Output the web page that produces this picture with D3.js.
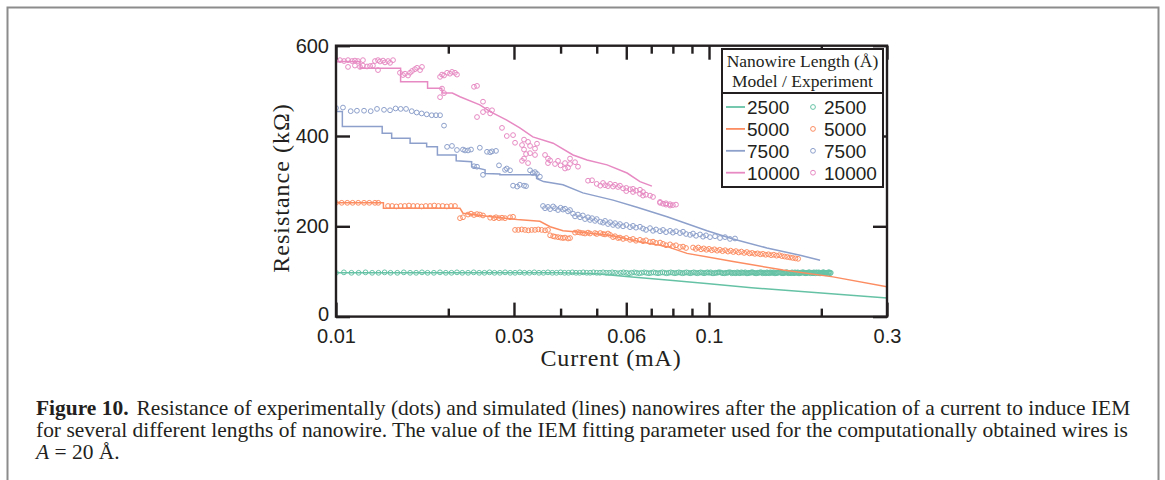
<!DOCTYPE html>
<html>
<head>
<meta charset="utf-8">
<script src="https://cdn.jsdelivr.net/npm/d3@7"></script>
<style>
  body { margin: 0; background: #fff; }
</style>
</head>
<body>
<div id="chart"></div>
<script>
// ---- data (current in mA, resistance in kOhm) ----
const lengths = ["2500", "5000", "7500", "10000"];
const colors = ["#66c2a5", "#fc8d62", "#8da0cb", "#e78ac3"];
const xTicks = [0.01, 0.03, 0.06, 0.1, 0.3];
const xMinorTicks = [0.02, 0.04, 0.05, 0.07, 0.08, 0.09, 0.2];
const yTicks = [0, 200, 400, 600];

const model2500 = [[0.01,97],[0.04,97],[0.05,95],[0.06,89],[0.08,80],[0.1,73],[0.13,64],[0.2,52],[0.3,41]];
const model5000 = [[0.01,252],[0.0134,252],[0.0134,240],[0.0215,240],[0.0219,229],[0.0251,223],[0.0306,215],[0.0352,211],
  [0.0375,199],[0.0406,190],[0.0459,186],[0.0543,180],[0.0653,166],[0.0772,155],[0.0873,140],[0.116,122],[0.158,103],[0.215,88],[0.3,66]];
const model7500 = [[0.01,454],[0.0104,454],[0.0104,421],[0.0133,421],[0.0133,406],[0.0141,406],[0.0141,395],[0.0158,395],
  [0.0158,384],[0.0175,384],[0.0175,376],[0.0187,376],[0.0187,358],[0.021,358],[0.021,345],[0.0231,343],[0.0231,332],
  [0.0251,325],[0.0251,317],[0.0275,316],[0.0275,314],[0.0345,314],[0.0345,306],[0.036,299],[0.0406,292],[0.0459,274],
  [0.0553,258],[0.0641,242],[0.0772,221],[0.0988,190],[0.116,172],[0.143,152],[0.1754,136],[0.1985,125]];
const model10000 = [[0.01,565],[0.0116,565],[0.0116,550],[0.0149,550],[0.0149,520],[0.0176,520],[0.0176,506],[0.0192,506],
  [0.0193,495],[0.0205,495],[0.0215,487],[0.0243,469],[0.0259,454],[0.0287,435],[0.0311,418],[0.0337,398],[0.0382,384],
  [0.0432,358],[0.0471,347],[0.0533,336],[0.0603,318],[0.0653,299],[0.0703,289]];

const exp2500 = [[0.0100,97],[0.0105,98],[0.0110,97],[0.0115,97],[0.0120,98],[0.0125,97],[0.0130,97],[0.0135,98],[0.0140,97],
  [0.0146,97],[0.0152,98],[0.0158,97],[0.0164,97],[0.0170,98],[0.0176,97],[0.0183,97],[0.0190,98],[0.0197,97],[0.0204,97],
  [0.0211,98],[0.0218,97],[0.0226,97],[0.0234,98],[0.0242,97],[0.0250,97],[0.0258,98],[0.0266,97],[0.0275,97],[0.0284,98],
  [0.0293,97],[0.0302,97],[0.0311,98],[0.0320,97],[0.0330,97],[0.0340,98],[0.0350,97],[0.0360,97],[0.0370,98],[0.0380,97],
  [0.0390,97],[0.0400,98],[0.0410,97],[0.0420,97],[0.0430,98],[0.0440,97],[0.0450,97],[0.0460,98],[0.0470,97],[0.0480,97],
  [0.0490,98],[0.0500,97],[0.0510,97],[0.0520,98],[0.0530,97],[0.0540,97],[0.0550,98],[0.0560,97],[0.0570,96],[0.0580,97],
  [0.0590,98],[0.0600,97],[0.061,96],[0.062,97],[0.063,98],[0.064,97],[0.065,96],[0.066,97],[0.067,98],[0.068,97],[0.069,96],
  [0.070,97],[0.071,98],[0.072,97],[0.073,96],[0.074,97],[0.075,98],[0.076,97],[0.077,96],[0.078,97],[0.079,98],[0.080,97],
  [0.081,96],[0.082,97],[0.083,98],[0.084,97],[0.085,96],[0.086,97],[0.087,98],[0.088,97],[0.089,96],[0.090,97],[0.091,98],
  [0.092,97],[0.093,96],[0.094,97],[0.095,98],[0.096,97],[0.097,96],[0.098,97],[0.099,98],[0.100,97],[0.102,96],[0.104,97],
  [0.106,98],[0.108,97],[0.110,96],[0.112,97],[0.114,98],[0.116,97],[0.118,96],[0.120,97],[0.122,98],[0.124,97],[0.126,96],
  [0.128,97],[0.130,98],[0.132,97],[0.134,96],[0.136,97],[0.138,98],[0.140,97],[0.142,96],[0.144,97],[0.146,98],[0.148,97],
  [0.150,96],[0.152,97],[0.154,98],[0.156,97],[0.158,96],[0.160,97],[0.162,98],[0.164,97],[0.166,96],[0.168,97],[0.170,98],
  [0.172,97],[0.174,96],[0.176,97],[0.178,98],[0.180,97],[0.182,96],[0.184,97],[0.186,98],[0.188,97],[0.190,96],[0.192,97],
  [0.194,98],[0.196,97],[0.198,96],[0.200,97],[0.202,98],[0.204,97],[0.206,96],[0.208,97],[0.210,98],[0.212,97],
  [0.101,98],[0.103,96],[0.105,97],[0.107,98],[0.109,96],[0.111,97],[0.113,98],[0.115,96],[0.117,97],[0.119,98],[0.121,96],
  [0.123,97],[0.125,98],[0.127,96],[0.129,97],[0.131,98],[0.133,96],[0.135,97],[0.137,98],[0.139,96],[0.141,97],[0.143,98],
  [0.145,96],[0.147,97],[0.149,98],[0.151,96],[0.153,97],[0.155,98],[0.157,96],[0.159,97],[0.161,98],[0.163,96],[0.165,97],
  [0.167,98],[0.169,96],[0.171,97],[0.173,98],[0.175,96],[0.177,97],[0.179,98],[0.181,96],[0.183,97],[0.185,98],[0.187,96],
  [0.189,97],[0.191,98],[0.193,96],[0.195,97],[0.197,98],[0.199,96],[0.201,97],[0.203,98],[0.205,96],[0.207,97],[0.209,98],[0.211,96]];

const exp5000 = [[0.0100,252],[0.01036,252],[0.01072,252],[0.01108,252],[0.01147,252],[0.01189,252],[0.01228,252],[0.01272,252],[0.01298,252],
  [0.01379,245],[0.01414,245],[0.01451,244],[0.01490,245],[0.01529,245],[0.01569,246],[0.01611,245],[0.01653,245],[0.01696,244],
  [0.01741,245],[0.01787,245],[0.01834,246],[0.01882,245],[0.01931,245],[0.01982,244],[0.02034,245],[0.02084,245],
  [0.0215,218],[0.0219,220],[0.02259,226],[0.02301,228],[0.02344,225],[0.02388,227],[0.0243,226],[0.02478,224],
  [0.0259,219],[0.02652,218],[0.02685,220],[0.02735,218],[0.02786,219],[0.02839,218],[0.02928,220],[0.02983,221],
  [0.0302,192],[0.03082,192],[0.03147,193],[0.03211,192],[0.03277,191],[0.03346,192],[0.03416,192],[0.03486,193],[0.03559,192],
  [0.03634,191],[0.03701,192],[0.0375,180],[0.0382,178],[0.03865,177],[0.03937,176],[0.04,175],[0.0406,174],[0.04111,175],
  [0.04188,173],[0.0424,174],[0.04373,186],[0.04454,187],[0.0451,186],[0.0459,185],[0.04652,184],[0.04738,186],[0.04797,184],
  [0.04948,185],[0.0500,183],[0.0511,185],[0.05198,183],[0.05263,182],[0.0536,184],[0.0543,181],[0.0553,176],[0.05598,178],
  [0.05702,174],[0.0577,175],[0.05882,172],[0.0600,174],[0.06141,170],[0.06255,172],[0.06371,168],[0.0653,170],[0.06653,167],
  [0.06777,169],[0.06947,165],[0.07077,166],[0.07209,163],[0.0739,164],[0.07528,161],[0.07668,158],[0.07862,160],[0.0800,156],
  [0.08155,158],[0.0836,154],[0.08518,155],[0.08677,152],[0.0906,153],[0.0921,150],[0.0936,153],[0.0952,149],[0.0968,151],
  [0.0984,148],[0.1000,150],[0.1017,147],[0.1034,149],[0.1051,146],[0.1069,148],[0.1087,145],[0.1105,147],[0.1124,144],
  [0.1143,146],[0.1162,143],[0.1181,145],[0.1201,142],[0.1221,144],[0.1242,141],[0.1263,143],[0.1284,140],[0.1305,141],
  [0.1327,139],[0.1350,140],[0.1372,138],[0.1395,139],[0.1419,137],[0.1443,138],[0.1467,136],[0.1492,137],[0.1517,135],
  [0.1542,136],[0.1568,134],[0.1595,133],[0.1621,132],[0.1649,131],[0.1676,130],[0.1705,129],[0.1733,128]];

const exp7500 = [[0.0100,462],[0.01044,463],[0.01095,455],[0.01138,456],[0.01189,456],[0.01239,455],[0.01288,460],[0.01345,458],
  [0.01396,457],[0.01445,461],[0.01491,460],[0.01541,460],[0.01596,455],[0.01646,452],[0.01697,450],[0.01751,448],[0.01806,446],
  [0.01854,446],[0.01901,446],[0.01948,423],[0.01985,376],[0.02046,378],[0.02110,369],[0.02190,370],[0.02218,368],[0.02259,368],
  [0.02301,370],[0.02430,374],[0.02540,365],[0.02590,364],[0.02620,366],[0.02685,367],[0.02344,333],[0.02388,332],[0.02478,314],
  [0.02735,335],[0.02839,325],[0.02870,328],[0.02928,324],[0.02983,290],[0.03060,288],[0.03110,292],[0.03192,290],[0.03232,289],
  [0.03313,324],[0.03370,318],[0.03416,320],[0.03458,316],[0.03520,310],[0.03589,245],[0.03634,240],[0.03701,243],[0.0375,238],
  [0.0382,244],[0.03865,240],[0.03937,236],[0.04,241],[0.0406,237],[0.04111,239],[0.04188,233],[0.0424,236],[0.0432,228],
  [0.04373,222],[0.04454,226],[0.0451,220],[0.0459,224],[0.04652,216],[0.04738,220],[0.04797,214],[0.04857,218],[0.04948,212],
  [0.0500,216],[0.0511,210],[0.05198,208],[0.05263,212],[0.0536,205],[0.0543,209],[0.0553,203],[0.05598,207],[0.05702,201],
  [0.0577,205],[0.05882,200],[0.0600,203],[0.06141,198],[0.06255,201],[0.06371,197],[0.0653,199],[0.06653,195],[0.06777,192],
  [0.06947,196],[0.07077,190],[0.07209,193],[0.0739,189],[0.07528,192],[0.07668,187],[0.07862,190],[0.0800,186],[0.08155,189],
  [0.0836,185],[0.08518,188],[0.08677,183],[0.08896,181],[0.0906,184],[0.09229,179],[0.0946,182],[0.09636,177],[0.09815,180],
  [0.1006,176],[0.1038,178],[0.107,174],[0.1104,176],[0.1138,172],[0.1174,173]];

const exp10000 = [[0.0100,568],[0.01025,568],[0.01051,566],[0.01077,568],[0.01104,566],[0.01124,567],[0.01145,566],[0.01181,568],
  [0.01077,553],[0.01124,556],[0.01160,553],[0.01181,556],[0.01211,554],[0.01234,555],[0.01256,556],[0.01272,566],[0.01296,568],
  [0.01312,565],[0.01337,567],[0.01353,563],[0.01379,566],[0.01396,562],[0.01422,568],[0.01296,546],[0.01484,540],[0.01512,535],
  [0.01531,538],[0.01560,534],[0.01579,540],[0.01599,544],[0.01628,548],[0.01649,551],[0.01680,546],[0.01700,553],[0.01901,531],
  [0.01924,536],[0.01948,534],[0.01985,540],[0.02021,538],[0.02046,542],[0.02084,540],[0.02110,536],[0.01924,505],[0.01901,486],
  [0.01948,495],[0.02344,509],[0.02388,511],[0.02388,442],[0.02478,476],[0.02478,453],[0.02540,458],[0.02590,450],[0.02620,457],
  [0.02786,418],[0.02870,400],[0.02983,402],[0.03020,385],[0.03153,380],[0.03192,370],[0.03232,360],[0.03192,350],[0.03153,345],
  [0.03272,387],[0.03313,378],[0.03416,372],[0.03313,362],[0.03416,358],[0.03272,340],[0.03458,383],[0.03192,392],[0.03634,358],
  [0.03701,350],[0.03701,340],[0.03750,346],[0.03865,338],[0.03937,345],[0.04000,335],[0.04111,340],[0.04188,330],[0.04240,350],
  [0.04373,342],[0.04454,332],[0.04240,338],[0.04111,328],[0.04738,301],[0.04857,302],[0.0500,294],[0.0511,290],[0.05198,296],
  [0.05263,291],[0.0536,289],[0.0543,294],[0.0553,288],[0.05598,292],[0.05702,287],[0.0577,290],[0.05882,284],[0.0600,278],
  [0.06141,282],[0.06255,276],[0.06371,279],[0.0653,272],[0.06653,276],[0.06777,270],[0.06947,268],[0.07077,265],[0.0600,285],
  [0.06255,283],[0.06653,268],[0.0653,281],[0.0739,252],[0.07528,250],[0.07668,248],[0.07862,249],[0.0800,247],[0.07668,251],
  [0.07862,246],[0.0739,254],[0.08155,248]];

const models = [model2500, model5000, model7500, model10000];
const exps = [exp2500, exp5000, exp7500, exp10000];

// ---- layout ----
const W = 1165, H = 480;
const plot = {left: 336, right: 887, top: 45.7, bottom: 316.6};
const ink = "#231f20";

const svg = d3.select("#chart").append("svg")
    .attr("width", W)
    .attr("height", H);

// page frame
svg.append("rect")
    .attr("x", 7.5).attr("y", 7.5)
    .attr("width", 1151).attr("height", 520)
    .attr("fill", "none")
    .attr("stroke", "#8c8c8c")
    .attr("stroke-width", 2);

const x = d3.scaleLog().domain([0.01, 0.3]).range([plot.left, plot.right]);
const y = d3.scaleLinear().domain([0, 600]).range([plot.bottom, plot.top]);

svg.append("clipPath").attr("id", "clip")
  .append("rect")
    .attr("x", plot.left).attr("y", plot.top)
    .attr("width", plot.right - plot.left).attr("height", plot.bottom - plot.top);

const dataG = svg.append("g").attr("clip-path", "url(#clip)");
const line = d3.line().x(d => x(d[0])).y(d => y(d[1]));

lengths.forEach(function(len, i) {
    dataG.append("g").selectAll("circle")
        .data(exps[i])
        .enter().append("circle")
        .attr("cx", d => x(d[0]))
        .attr("cy", d => y(d[1]))
        .attr("r", 2.4)
        .attr("fill", "none")
        .attr("stroke", colors[i])
        .attr("stroke-width", 1);
    dataG.append("path")
        .datum(models[i])
        .attr("d", line)
        .attr("fill", "none")
        .attr("stroke", colors[i])
        .attr("stroke-width", 1.5);
});

// axes
function styleAxis(g) {
    g.select(".domain").remove();
    g.selectAll(".tick line").attr("stroke", ink).attr("stroke-width", 2.4);
    g.selectAll(".tick text")
        .attr("fill", ink)
        .attr("font-family", "'Liberation Sans', Arial, sans-serif")
        .attr("font-size", 20);
}

svg.append("g")
    .attr("transform", "translate(0," + plot.bottom + ")")
    .call(d3.axisBottom(x).tickValues(xTicks).tickSize(-14).tickPadding(12).tickFormat(d3.format("")))
    .call(styleAxis);
svg.append("g")
    .attr("transform", "translate(0," + plot.bottom + ")")
    .call(d3.axisBottom(x).tickValues(xMinorTicks).tickSize(-8).tickFormat(""))
    .call(styleAxis);
svg.append("g")
    .attr("transform", "translate(0," + plot.top + ")")
    .call(d3.axisTop(x).tickValues(xTicks).tickSize(-14).tickFormat(""))
    .call(styleAxis);
svg.append("g")
    .attr("transform", "translate(0," + plot.top + ")")
    .call(d3.axisTop(x).tickValues(xMinorTicks).tickSize(-8).tickFormat(""))
    .call(styleAxis);
const yAxisG = svg.append("g")
    .attr("transform", "translate(" + plot.left + ",0)")
    .call(d3.axisLeft(y).tickValues(yTicks).tickSize(-14).tickPadding(7))
    .call(styleAxis);
// the "0" label sits a little above the corner, clear of "0.01"
yAxisG.selectAll(".tick text").filter(d => d === 0).attr("dy", "0.2em");
svg.append("g")
    .attr("transform", "translate(" + plot.right + ",0)")
    .call(d3.axisRight(y).tickValues(yTicks).tickSize(-14).tickFormat(""))
    .call(styleAxis);

svg.append("rect")
    .attr("x", plot.left).attr("y", plot.top)
    .attr("width", plot.right - plot.left).attr("height", plot.bottom - plot.top)
    .attr("fill", "none")
    .attr("stroke", ink)
    .attr("stroke-width", 2.4);

// axis titles
const serif = "'Liberation Serif', 'Times New Roman', serif";
svg.append("text")
    .attr("x", 611)
    .attr("y", 366)
    .attr("text-anchor", "middle")
    .attr("font-family", serif)
    .attr("font-size", 24)
    .attr("letter-spacing", 0.8)
    .attr("fill", ink)
    .text("Current (mA)");
svg.append("text")
    .attr("transform", "translate(289,188) rotate(-90)")
    .attr("text-anchor", "middle")
    .attr("font-family", serif)
    .attr("font-size", 24)
    .attr("letter-spacing", 1)
    .attr("fill", ink)
    .text("Resistance (kΩ)");

// legend
const lg = svg.append("g");
lg.append("rect")
    .attr("x", 722).attr("y", 49)
    .attr("width", 161).attr("height", 138)
    .attr("fill", "#fff")
    .attr("stroke", ink)
    .attr("stroke-width", 2);
lg.append("line")
    .attr("x1", 722).attr("x2", 883)
    .attr("y1", 93).attr("y2", 93)
    .attr("stroke", ink)
    .attr("stroke-width", 2);
lg.append("text")
    .attr("x", 802.5).attr("y", 67)
    .attr("text-anchor", "middle")
    .attr("font-family", serif).attr("font-size", 17.5).attr("fill", ink)
    .text("Nanowire Length (Å)");
lg.append("text")
    .attr("x", 802.5).attr("y", 87)
    .attr("text-anchor", "middle")
    .attr("font-family", serif).attr("font-size", 17.5).attr("fill", ink)
    .text("Model / Experiment");

const rows = lg.selectAll(".row")
    .data(lengths)
    .enter().append("g")
    .attr("class", "row")
    .attr("transform", (d, i) => "translate(0," + (107 + i * 21.9) + ")");
rows.append("line")
    .attr("x1", 726).attr("x2", 745)
    .attr("stroke", (d, i) => colors[i])
    .attr("stroke-width", 1.8);
rows.append("circle")
    .attr("cx", 813).attr("r", 2.4)
    .attr("fill", "none")
    .attr("stroke", (d, i) => colors[i])
    .attr("stroke-width", 1);
rows.append("text")
    .attr("x", 747).attr("y", 7)
    .attr("font-family", "'Liberation Sans', Arial, sans-serif")
    .attr("font-size", 19).attr("fill", ink)
    .text(d => d);
rows.append("text")
    .attr("x", 824).attr("y", 7)
    .attr("font-family", "'Liberation Sans', Arial, sans-serif")
    .attr("font-size", 19).attr("fill", ink)
    .text(d => d);

// caption
const cap = svg.append("g")
    .attr("font-family", serif)
    .attr("font-size", 18)
    .attr("fill", ink);
const l1 = cap.append("text").attr("x", 36).attr("y", 415);
l1.append("tspan").attr("font-weight", "bold").text("Figure 10.");
l1.append("tspan").attr("dx", 8).text("Resistance of experimentally (dots) and simulated (lines) nanowires after the application of a current to induce IEM");
cap.append("text").attr("x", 36).attr("y", 437)
    .text("for several different lengths of nanowire. The value of the IEM fitting parameter used for the computationally obtained wires is");
const l3 = cap.append("text").attr("x", 36).attr("y", 459);
l3.append("tspan").attr("font-style", "italic").text("A");
l3.append("tspan").text(" = 20 Å.");

// fit caption width to the reference line length
const w1 = l1.node().getComputedTextLength();
cap.attr("font-size", 18 * 1087 / w1);
</script>
</body>
</html>
